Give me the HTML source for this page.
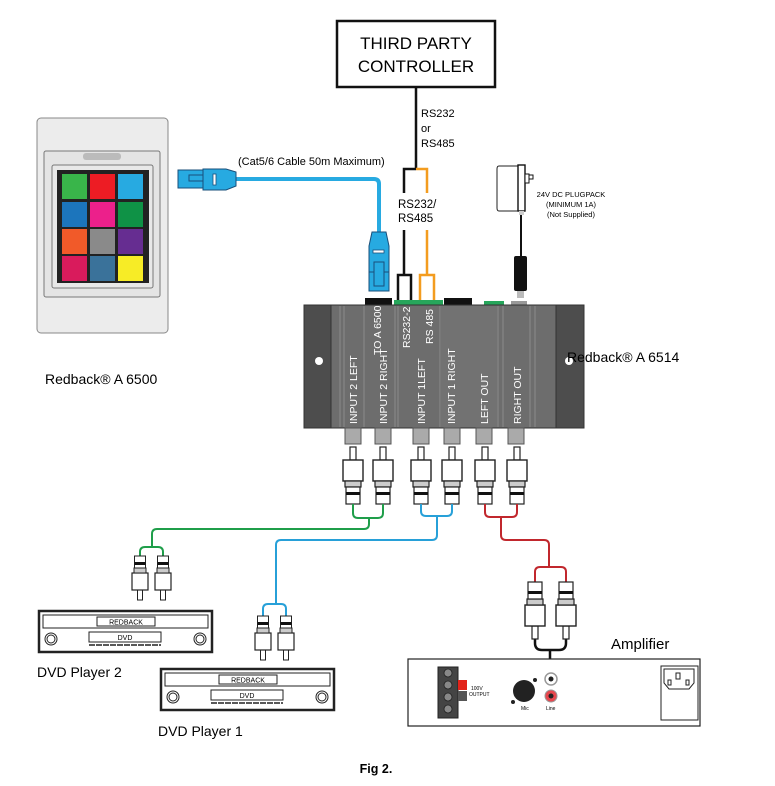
<!DOCTYPE html>
<html><head><meta charset="utf-8"><style>body{margin:0;background:#fff}svg{display:block}text{font-family:"Liberation Sans",sans-serif}</style></head>
<body>
<svg width="775" height="786" viewBox="0 0 775 786" xmlns="http://www.w3.org/2000/svg">
<defs>
<g id="rca">
<rect x="-3" y="0" width="6" height="13" fill="#fff" stroke="#222" stroke-width="1.2"/>
<rect x="-10" y="13" width="20" height="21" fill="#fff" stroke="#222" stroke-width="1.4"/>
<rect x="-8" y="34" width="16" height="6" fill="#ccc" stroke="#222" stroke-width="1.2"/>
<rect x="-7" y="40" width="14" height="17" fill="#fff" stroke="#222" stroke-width="1.2"/>
<rect x="-7" y="45" width="14" height="3" fill="#111"/>
</g>
<g id="rcas">
<rect x="-2.5" y="0" width="5" height="10" fill="#fff" stroke="#222" stroke-width="1"/>
<rect x="-8" y="10" width="16" height="17" fill="#fff" stroke="#222" stroke-width="1.2"/>
<rect x="-6" y="27" width="12" height="5" fill="#ccc" stroke="#222" stroke-width="1"/>
<rect x="-5.5" y="32" width="11" height="12" fill="#fff" stroke="#222" stroke-width="1"/>
<rect x="-5.5" y="35" width="11" height="3" fill="#111"/>
</g>
<g id="dvd">
<rect x="0" y="0" width="173" height="41" fill="#fff" stroke="#222" stroke-width="2.5"/>
<rect x="4" y="4" width="165" height="13" fill="#fff" stroke="#222" stroke-width="1"/>
<rect x="58" y="6" width="58" height="9" fill="#fff" stroke="#222" stroke-width="1"/>
<text x="87" y="13.5" font-size="7" text-anchor="middle">REDBACK</text>
<rect x="50" y="21" width="72" height="10" fill="#fff" stroke="#222" stroke-width="1"/>
<text x="86" y="29" font-size="7" text-anchor="middle">DVD</text>
<line x1="50" y1="34" x2="122" y2="34" stroke="#222" stroke-width="1.5" stroke-dasharray="6 1"/>
<circle cx="12" cy="28" r="6" fill="#fff" stroke="#222"/><circle cx="12" cy="28" r="4" fill="#fff" stroke="#222"/>
<circle cx="161" cy="28" r="6" fill="#fff" stroke="#222"/><circle cx="161" cy="28" r="4" fill="#fff" stroke="#222"/>
</g>
</defs>

<!-- Third party controller -->
<rect x="337" y="21" width="158" height="66" fill="#fff" stroke="#111" stroke-width="2.5"/>
<text x="416" y="49" font-size="17" text-anchor="middle">THIRD PARTY</text>
<text x="416" y="72" font-size="17" text-anchor="middle">CONTROLLER</text>
<line x1="416" y1="87" x2="416" y2="170" stroke="#111" stroke-width="2.5"/>
<text x="421" y="117" font-size="11">RS232</text>
<text x="421" y="132" font-size="11">or</text>
<text x="421" y="147" font-size="11">RS485</text>
<path d="M416 169 H404 V193" fill="none" stroke="#111" stroke-width="2.5"/>
<path d="M416 169 H427 V193" fill="none" stroke="#f39c1f" stroke-width="2.5"/>
<text x="398" y="208" font-size="11.5">RS232/</text>
<text x="398" y="222" font-size="11.5">RS485</text>
<path d="M404 230 V275 M398 301 V275 H411 V301" fill="none" stroke="#111" stroke-width="2.5"/>
<path d="M427 230 V275 M420 301 V275 H434 V301" fill="none" stroke="#f39c1f" stroke-width="2.5"/>

<!-- Keypad -->
<rect x="37" y="118" width="131" height="215" rx="4" fill="#ececec" stroke="#888" stroke-width="1"/>
<rect x="44" y="151" width="116" height="146" rx="2" fill="#e4e4e4" stroke="#777" stroke-width="1"/>
<rect x="83" y="153" width="38" height="7" rx="3" fill="#bbb"/>
<rect x="52" y="165" width="101" height="123" rx="2" fill="#e8e8e8" stroke="#777" stroke-width="1"/>
<rect x="57" y="170" width="92" height="113" fill="#222"/>
<g>
<rect x="62" y="174" width="25" height="25" fill="#39b54a"/><rect x="90" y="174" width="25" height="25" fill="#ed1c24"/><rect x="118" y="174" width="25" height="25" fill="#27aae1"/>
<rect x="62" y="202" width="25" height="25" fill="#1c75bc"/><rect x="90" y="202" width="25" height="25" fill="#ec208b"/><rect x="118" y="202" width="25" height="25" fill="#0f9246"/>
<rect x="62" y="229" width="25" height="25" fill="#f15a29"/><rect x="90" y="229" width="25" height="25" fill="#8a8a8a"/><rect x="118" y="229" width="25" height="25" fill="#662d91"/>
<rect x="62" y="256" width="25" height="25" fill="#d91b5c"/><rect x="90" y="256" width="25" height="25" fill="#3a729a"/><rect x="118" y="256" width="25" height="25" fill="#f7ec26"/>
</g>
<text x="45" y="384" font-size="14">Redback® A 6500</text>

<!-- Ethernet cable -->
<text x="238" y="165" font-size="11">(Cat5/6 Cable 50m Maximum)</text>
<path d="M236 179 H374 Q379 179 379 184 V232" fill="none" stroke="#27aae1" stroke-width="4"/>
<rect x="178" y="170" width="25" height="18" fill="#27aae1" stroke="#1a4f7a" stroke-width="1"/>
<rect x="189" y="175" width="16" height="6" fill="#27aae1" stroke="#1a4f7a" stroke-width="1"/>
<path d="M203 169 H226 L236 172 V186 L226 190 H203 Z" fill="#27aae1" stroke="#1a4f7a" stroke-width="1"/>
<rect x="213" y="174" width="3" height="11" fill="#fff" stroke="#1a4f7a" stroke-width=".8"/>
<path d="M372 232 H386 L389 246 V274 H369 V246 Z" fill="#27aae1" stroke="#1a4f7a" stroke-width="1"/>
<rect x="369" y="272" width="20" height="19" fill="#27aae1" stroke="#1a4f7a" stroke-width="1"/>
<rect x="374" y="262" width="10" height="24" fill="#27aae1" stroke="#1a4f7a" stroke-width="1"/>
<rect x="373" y="250" width="11" height="3" fill="#fff" stroke="#1a4f7a" stroke-width=".8"/>

<!-- plugpack -->
<path d="M499 166 H518 V211 H499 Q497 211 497 208 V169 Q497 166 499 166 Z" fill="#fff" stroke="#222" stroke-width="1"/>
<rect x="518" y="165" width="7" height="46" fill="#fff" stroke="#111" stroke-width="1.4"/>
<rect x="525" y="174" width="4" height="9" fill="#fff" stroke="#111" stroke-width="1"/>
<rect x="529" y="175" width="4" height="4" fill="#fff" stroke="#111" stroke-width="1"/>
<rect x="519" y="211" width="5" height="4" fill="#ccc"/>
<line x1="521" y1="215" x2="521" y2="258" stroke="#111" stroke-width="2"/>
<rect x="514" y="256" width="13" height="35" rx="2" fill="#111"/>
<rect x="517" y="291" width="7" height="7" fill="#bbb"/>
<text x="571" y="197" font-size="7.5" text-anchor="middle">24V DC PLUGPACK</text>
<text x="571" y="207" font-size="7.5" text-anchor="middle">(MINIMUM 1A)</text>
<text x="571" y="217" font-size="7.5" text-anchor="middle">(Not Supplied)</text>

<!-- A6514 box -->
<rect x="365" y="298" width="27" height="9" fill="#111"/>
<rect x="394" y="300" width="49" height="7" fill="#26a65b"/>
<rect x="444" y="298" width="28" height="9" fill="#111"/>
<rect x="484" y="301" width="20" height="6" fill="#26a65b"/>
<rect x="511" y="301" width="16" height="6" fill="#999"/>
<rect x="304" y="305" width="280" height="123" fill="#6d6d6d" stroke="#333" stroke-width="1"/>
<rect x="304" y="305" width="27" height="123" fill="#4d4d4d" stroke="#333"/>
<rect x="556" y="305" width="28" height="123" fill="#4d4d4d" stroke="#333"/>
<g stroke="#8a8a8a" stroke-width="1">
<line x1="340" y1="306" x2="340" y2="427"/><line x1="344" y1="306" x2="344" y2="427"/><line x1="364" y1="306" x2="364" y2="427"/>
<line x1="395" y1="306" x2="395" y2="427"/><line x1="398" y1="306" x2="398" y2="427"/><line x1="440" y1="306" x2="440" y2="427"/>
<line x1="498" y1="306" x2="498" y2="427"/><line x1="503" y1="306" x2="503" y2="427"/><line x1="530" y1="306" x2="530" y2="427"/><line x1="535" y1="306" x2="535" y2="427"/>
</g>
<rect x="440" y="306" width="57" height="121" fill="#777" opacity=".6"/>
<circle cx="319" cy="361" r="4" fill="#fff"/><circle cx="569" cy="361" r="4" fill="#fff"/>
<g font-size="10.5" fill="#fff">
<text transform="translate(381,355) rotate(-90)">TO A 6500</text>
<text transform="translate(410,348) rotate(-90)">RS232-2</text>
<text transform="translate(433,344) rotate(-90)">RS 485</text>
<text transform="translate(357,424) rotate(-90)">INPUT 2 LEFT</text>
<text transform="translate(387,424) rotate(-90)">INPUT 2 RIGHT</text>
<text transform="translate(425,424) rotate(-90)">INPUT 1LEFT</text>
<text transform="translate(455,424) rotate(-90)">INPUT 1 RIGHT</text>
<text transform="translate(488,424) rotate(-90)">LEFT OUT</text>
<text transform="translate(521,424) rotate(-90)">RIGHT  OUT</text>
</g>
<text x="567" y="362" font-size="14">Redback® A 6514</text>
<g fill="#aaa" stroke="#555" stroke-width="1">
<rect x="345" y="428" width="16" height="16"/><rect x="375" y="428" width="16" height="16"/>
<rect x="413" y="428" width="16" height="16"/><rect x="444" y="428" width="16" height="16"/>
<rect x="476" y="428" width="16" height="16"/><rect x="508" y="428" width="16" height="16"/>
</g>
<use href="#rca" x="353" y="447"/><use href="#rca" x="383" y="447"/>
<use href="#rca" x="421" y="447"/><use href="#rca" x="452" y="447"/>
<use href="#rca" x="485" y="447"/><use href="#rca" x="517" y="447"/>

<!-- wires -->
<path d="M353 504 V513 Q353 518 358 518 H378 Q383 518 383 513 V504 M369 518 V524 Q369 529 364 529 H157 Q152 529 152 534 V547 M140 557 V552 Q140 547 145 547 H158 Q163 547 163 552 V557" fill="none" stroke="#1f9e4a" stroke-width="2"/>
<path d="M421 504 V511 Q421 516 426 516 H447 Q452 516 452 511 V504 M437 516 V535 Q437 540 432 540 H281 Q276 540 276 545 V604 M263 617 V609 Q263 604 268 604 H281 Q286 604 286 609 V617" fill="none" stroke="#27a0d8" stroke-width="2"/>
<path d="M485 504 V512 Q485 517 490 517 H512 Q517 517 517 512 V504 M501 517 V535 Q501 540 506 540 H544 Q549 540 549 545 V567 M535 583 V572 Q535 567 540 567 H561 Q566 567 566 572 V583" fill="none" stroke="#c1272d" stroke-width="2"/>
<path d="M535 638 V643 Q535 650 542 650 H559 Q566 650 566 643 V638 M550 650 V672" fill="none" stroke="#111" stroke-width="2.5"/>

<!-- small rca plugs to DVDs (pins down) -->
<use href="#rcas" x="140" y="600" transform="rotate(180 140 600)"/>
<use href="#rcas" x="163" y="600" transform="rotate(180 163 600)"/>
<use href="#rcas" x="263" y="660" transform="rotate(180 263 660)"/>
<use href="#rcas" x="286" y="660" transform="rotate(180 286 660)"/>
<!-- big rca plugs to amp (pins down) -->
<g transform="translate(535,639) rotate(180)"><use href="#rca" x="0" y="0"/></g>
<g transform="translate(566,639) rotate(180)"><use href="#rca" x="0" y="0"/></g>

<!-- DVD players -->
<use href="#dvd" x="39" y="611"/>
<use href="#dvd" x="161" y="669"/>
<text x="37" y="677" font-size="14">DVD Player 2</text>
<text x="158" y="736" font-size="14">DVD Player 1</text>

<!-- Amplifier -->
<text x="611" y="649" font-size="15">Amplifier</text>
<rect x="408" y="659" width="292" height="67" fill="#fff" stroke="#222" stroke-width="1.2"/>
<rect x="438" y="667" width="20" height="51" fill="#444" stroke="#222"/>
<g fill="#888" stroke="#222" stroke-width=".8"><circle cx="448" cy="673" r="4"/><circle cx="448" cy="685" r="4"/><circle cx="448" cy="697" r="4"/><circle cx="448" cy="709" r="4"/></g>
<rect x="458" y="680" width="9" height="10" fill="#e2231a"/>
<rect x="458" y="691" width="9" height="10" fill="#555"/>
<text x="471" y="690" font-size="5">100V</text><text x="469" y="696" font-size="5">OUTPUT</text>
<circle cx="524" cy="691" r="11" fill="#222"/>
<circle cx="513" cy="702" r="2" fill="#222"/><circle cx="535" cy="680" r="2" fill="#222"/>
<text x="521" y="710" font-size="5">Mic</text>
<circle cx="551" cy="679" r="6" fill="#fff" stroke="#999" stroke-width="1.5"/><circle cx="551" cy="679" r="2.5" fill="#222"/>
<circle cx="551" cy="696" r="6" fill="#e7474e" stroke="#999" stroke-width="1"/><circle cx="551" cy="696" r="2.5" fill="#222"/>
<text x="546" y="710" font-size="5">Line</text>
<rect x="661" y="666" width="37" height="54" fill="#fff" stroke="#222"/>
<path d="M664 669 H694 V683 L689 689 H669 L664 683 Z" fill="#fff" stroke="#222"/>
<rect x="676" y="673" width="4" height="6" fill="#fff" stroke="#222"/>
<rect x="668" y="680" width="3" height="5" fill="#fff" stroke="#222"/><rect x="686" y="680" width="3" height="5" fill="#fff" stroke="#222"/>

<text x="376" y="773" font-size="12.5" font-weight="bold" text-anchor="middle">Fig 2.</text>
</svg>
</body></html>
